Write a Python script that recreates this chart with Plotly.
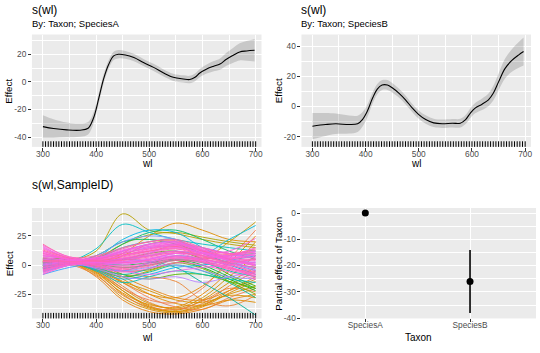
import plotly.graph_objects as go

# ---------------- data ----------------
wl_ticks = [300, 400, 500, 600, 700]
wl_obs = list(range(300, 701, 5))  # rug positions (one observation every 5 nm)

# s(wl) SpeciesA
a_wl = [300, 320, 345, 370, 385, 395, 405, 414, 424, 433, 442, 455, 471, 489, 508,
        527, 545, 564, 576, 586, 595, 608, 620, 633, 645, 658, 670, 683, 698]
a_est = [-32.4, -33.8, -34.8, -35.0, -33.6, -26.4, -12.0, 2.0, 12.9, 18.8, 20.0, 19.5,
         17.6, 14.0, 10.5, 6.4, 3.3, 2.1, 1.7, 3.3, 6.4, 9.3, 11.2, 12.9, 16.4, 19.3,
         21.7, 22.4, 22.9]
a_se = [8.3, 6.8, 5.4, 4.8, 4.5, 4.0, 3.6, 3.3, 3.1, 3.0, 3.0, 2.8, 2.7, 2.6, 2.6, 2.6,
        2.6, 2.6, 2.7, 2.8, 3.0, 3.3, 3.7, 4.1, 4.7, 5.4, 6.2, 7.2, 8.2]
a_yticks = [-40, -20, 0, 20]

# s(wl) SpeciesB
b_wl = [300, 325, 344, 369, 385, 394, 403, 413, 422, 431, 441, 450, 463, 475, 488, 500,
        513, 528, 544, 563, 578, 588, 597, 606, 619, 631, 640, 650, 662, 675, 688, 697]
b_est = [-13.1, -12.0, -11.5, -12.0, -11.5, -8.7, -3.3, 5.4, 11.5, 14.2, 14.2, 12.4, 8.7,
         4.4, -1.1, -5.4, -8.7, -10.9, -11.5, -11.1, -11.1, -8.7, -4.4, -1.1, 1.5, 4.4,
         8.7, 16.3, 25.1, 30.5, 34.2, 36.4]
b_se = [8.7, 7.6, 6.8, 6.0, 5.4, 4.8, 4.2, 3.7, 3.4, 3.3, 3.3, 3.2, 3.0, 2.9, 2.8, 2.8,
        2.8, 2.8, 2.8, 2.8, 2.9, 3.0, 3.2, 3.4, 3.8, 4.2, 4.8, 5.5, 6.5, 7.5, 8.5, 9.3]
b_yticks = [-20, 0, 20, 40]

# s(wl,SampleID): per-sample smooths read at these wavelengths
re_wl = [300, 350, 400, 450, 500, 550, 600, 650, 700]
orange_curves = [
    [2, 3, -5, -22, -35, -40, -35, -22, -10],
    [-3, 1, -8, -28, -38, -41, -36, -24, -14],
    [5, 4, -3, -18, -32, -38, -33, -18, -5],
    [0, 2, -6, -25, -37, -39, -30, -15, -2],
    [8, 5, -2, -15, -28, -36, -38, -28, -20],
    [-2, 2, -10, -30, -40, -42, -38, -30, -25],
    [4, 3, -4, -20, -33, -37, -28, -10, 8],
    [1, 2, -7, -24, -34, -36, -25, -5, 20],
    [6, 4, -1, -12, -25, -33, -35, -30, -32],
    [-4, 0, -9, -26, -36, -38, -31, -20, -23],
    [3, 3, -2, -14, -22, -30, -32, -25, -18],
    [0, 2, -5, -20, -30, -32, -20, 5, 30],
    [2, 3, 0, -10, -20, -28, -30, -22, -12],
    [5, 4, -6, -22, -36, -40, -34, -26, -28],
    [3, 3, -4, -15, -25, -28, -18, 2, 25],
    [0, 2, 2, 10, 25, 36, 30, 22, 20],
    [-2, 1, -3, -8, -10, -14, -30, -35, -26],
]
olive_curves = [
    [3, 4, 12, 44, 30, 27, 22, 18, 15],
    [2, 3, 0, 8, 18, 20, 6, 20, 37],
    [4, 4, 6, 18, 26, 28, 24, 20, 17],
    [-2, 1, -4, -10, -5, 2, 5, 8, 10],
]
green_curves = [
    [2, 3, 2, 0, 2, 5, 0, -10, -20],
    [4, 3, 0, -5, -4, 2, -3, -14, -25],
    [0, 2, 5, 18, 28, 30, 22, 12, 5],
    [5, 4, 3, 5, 10, 12, 5, -8, -18],
    [1, 2, -3, -10, -6, 0, -5, -15, -28],
    [3, 3, 1, -2, 0, 4, -2, -12, -22],
    [-1, 2, 8, 20, 22, 18, 10, 2, -2],
    [6, 5, 2, -8, -12, -8, -8, -14, -20],
]
teal_curves = [
    [0, 3, 14, 35, 28, 22, 18, 15, 12],
    [-3, 1, 3, 5, 3, -2, -15, -28, -43],
    [-5, 0, 5, 15, 20, 22, 10, 22, 34],
    [2, 3, -2, -8, -3, 5, 2, -5, -10],
    [-2, 2, 6, 22, 30, 28, 15, 5, 0],
    [0, 2, -5, -15, -10, -5, -8, -12, -15],
]
blue_curves = [
    [-6, 0, 4, 12, 18, 20, 12, 5, 2],
    [-3, 1, -2, -5, 2, 8, 5, 0, -8],
    [5, 4, 6, 10, 15, 16, 10, 8, 10],
    [-8, -2, 2, 5, 8, 12, 8, 2, -5],
    [2, 3, -4, -12, -8, -2, 0, 4, 8],
    [0, 2, 8, 20, 25, 22, 12, 4, -4],
    [-4, 0, 0, 2, 10, 18, 15, 10, 12],
]
purple_curves = [
    [-5, 0, 2, 3, 5, 10, 8, 5, 0],
    [3, 3, -3, -10, -12, -10, -15, -10, -6],
    [-2, 1, 5, 12, 18, 20, 15, 10, 6],
    [8, 5, 3, 2, 5, 8, 3, -3, -8],
    [0, 2, -2, -5, -2, 0, -5, -10, -12],
]
pink_curves = [
    [15, 6, 5, 10, 15, 18, 12, 8, 12],
    [12, 5, 2, 5, 10, 14, 10, 6, 5],
    [-8, 0, 3, 5, 8, 10, 5, 0, -5],
    [10, 5, 0, -3, 0, 5, 3, -2, -8],
    [5, 4, 6, 12, 18, 20, 14, 10, 8],
    [-5, 1, -2, -6, -3, 2, 0, -6, -12],
    [18, 7, 8, 15, 20, 22, 15, 10, 14],
    [0, 3, 4, 8, 12, 15, 10, 5, 2],
    [8, 5, 1, 0, 5, 10, 8, 4, 0],
    [-3, 2, 5, 10, 14, 16, 8, 2, -2],
    [14, 6, 3, 2, 4, 8, 6, 8, 15],
    [3, 3, -1, -4, -1, 4, 2, -3, -6],
    [-7, 0, 2, 3, 6, 10, 10, 12, 23],
    [10, 5, 4, 8, 14, 18, 12, 6, 4],
    [2, 3, 7, 14, 20, 21, 13, 5, -1],
    [6, 4, 0, -5, -8, -5, -2, 0, 3],
    [16, 6, 6, 12, 16, 17, 10, 6, 10],
    [-4, 1, 3, 6, 9, 12, 6, -1, -10],
    [12, 5, 2, 4, 8, 12, 9, 4, 1],
    [4, 4, 5, 9, 12, 14, 8, 3, 5],
    [9, 5, 3, 6, 11, 15, 11, 7, 9],
    [-6, 1, 1, 2, 4, 7, 4, -2, -11],
    [13, 6, 4, 7, 12, 16, 12, 9, 13],
    [1, 3, 2, 1, 3, 6, 4, 1, -3],
    [7, 4, 6, 13, 17, 19, 11, 4, 0],
    [-1, 2, 0, -2, 1, 6, 5, 2, 6],
    [17, 7, 5, 8, 13, 17, 13, 10, 11],
    [3, 3, 3, 4, 7, 11, 7, 1, -7],
    [11, 5, 6, 11, 16, 19, 13, 7, 7],
    [-2, 2, 1, -1, 2, 7, 3, -4, -9],
]
re_yticks = [-25, 0, 25]

# Parametric effect of Taxon
taxa = ["SpeciesA", "SpeciesB"]
taxon_est = [0.0, -26.1]
taxon_lower = [0.0, -38.0]
taxon_upper = [0.0, -14.1]
tax_yticks = [-40, -30, -20, -10, 0]

# ---------------- style ----------------
W, H = 540, 353
FONT = "Liberation Sans, Arial, sans-serif"
PANEL = "#EBEBEB"
TICKC = "#4D4D4D"
group_colors = {
    "orange": ["#E58700", "#DE8C00", "#EA8331", "#D89000", "#F07E4E", "#E68613", "#D39200"],
    "olive": ["#B79F00", "#C49A00", "#ABA300"],
    "green": ["#00BA38", "#7CAE00", "#00BE67", "#39B600", "#00C08B", "#0CB702", "#00BC59", "#53B400"],
    "teal": ["#00BFC4", "#00B09B", "#00BCD8", "#00C1A9", "#00B8E7", "#00C0B8"],
    "blue": ["#619CFF", "#00A9FF", "#8B93FF", "#35A2FF", "#00B4F0", "#7997FF", "#A58AFF"],
    "purple": ["#C77CFF", "#B983FF", "#D575FE", "#E16CF7", "#9590FF"],
    "pink": ["#F564E3", "#FF61C3", "#FD61D1", "#FF64B0", "#FA62DB", "#FF61C9", "#FF67A4", "#F066EA"],
}
groups = [("orange", orange_curves), ("olive", olive_curves), ("green", green_curves),
          ("teal", teal_curves), ("blue", blue_curves), ("purple", purple_curves),
          ("pink", pink_curves)]

# panel boxes in pixels (left, right, top, bottom)
P1 = (32, 262, 35, 149)
P2 = (302, 532, 35, 149)
P3 = (32, 262, 211, 323)
P4 = (302, 537, 211, 323)


def xd(p):
    return [p[0] / W, p[1] / W]


def yd(p):
    return [1 - p[3] / H, 1 - p[2] / H]


def lab(v):
    return [("-" + str(abs(t))) if t < 0 else str(t) for t in v]


fig = go.Figure()


def smooth_panel(xs, est, se, xa, ya):
    upper = [e + s for e, s in zip(est, se)]
    lower = [e - s for e, s in zip(est, se)]
    fig.add_trace(go.Scatter(x=xs, y=upper, mode="lines", line=dict(width=0, shape="spline"),
                             xaxis=xa, yaxis=ya, showlegend=False, hoverinfo="skip"))
    fig.add_trace(go.Scatter(x=xs, y=lower, mode="lines", line=dict(width=0, shape="spline"),
                             fill="tonexty", fillcolor="rgba(0,0,0,0.15)",
                             xaxis=xa, yaxis=ya, showlegend=False, hoverinfo="skip"))
    fig.add_trace(go.Scatter(x=xs, y=est, mode="lines", line=dict(color="black", width=1.1, shape="spline"),
                             xaxis=xa, yaxis=ya, showlegend=False))


smooth_panel(a_wl, a_est, a_se, "x", "y")
smooth_panel(b_wl, b_est, b_se, "x2", "y2")

for gname, curves in groups:
    cols = group_colors[gname]
    for i, c in enumerate(curves):
        fig.add_trace(go.Scatter(x=re_wl, y=c, mode="lines",
                                 line=dict(color=cols[i % len(cols)], width=0.9, shape="spline", smoothing=1.0),
                                 xaxis="x3", yaxis="y3", showlegend=False))

fig.add_trace(go.Scatter(
    x=taxa, y=taxon_est, mode="markers",
    marker=dict(color="black", size=7),
    error_y=dict(type="data", symmetric=False,
                 array=[u - e for u, e in zip(taxon_upper, taxon_est)],
                 arrayminus=[e - l for e, l in zip(taxon_est, taxon_lower)],
                 width=0, thickness=1.6, color="black"),
    xaxis="x4", yaxis="y4", showlegend=False))

# rugs
shapes = []
for xr, yr in [("x", "y domain"), ("x2", "y2 domain"), ("x3", "y3 domain")]:
    for w in wl_obs:
        shapes.append(dict(type="line", xref=xr, yref=yr, x0=w, x1=w, y0=0, y1=0.05,
                           line=dict(color="black", width=1)))

axis_common = dict(showline=False, zeroline=False, ticks="outside", ticklen=3, tickwidth=1,
                   tickcolor="#333333", showgrid=True, gridcolor="white", gridwidth=1,
                   tickfont=dict(family=FONT, size=8.3, color=TICKC))


def wlaxis(p, anchor):
    return dict(axis_common, domain=xd(p), anchor=anchor, range=[279.4, 711],
                tickmode="array", tickvals=wl_ticks, ticktext=lab(wl_ticks),
                ticklabelstandoff=-4,
                minor=dict(tickvals=[350, 450, 550, 650], showgrid=True, gridcolor="white",
                           gridwidth=0.5, ticks=""))


def yaxis(p, anchor, rng, ticks, minor):
    return dict(axis_common, domain=yd(p), anchor=anchor, range=rng,
                tickmode="array", tickvals=ticks, ticktext=lab(ticks),
                minor=dict(tickvals=minor, showgrid=True, gridcolor="white", gridwidth=0.5, ticks=""))


layout = dict(
    width=W, height=H, margin=dict(l=0, r=0, t=0, b=0),
    paper_bgcolor="white", plot_bgcolor=PANEL,
    font=dict(family=FONT, color="black"),
    xaxis=wlaxis(P1, "y"),
    yaxis=yaxis(P1, "x", [-47.1, 34.3], a_yticks, [-30, -10, 10, 30]),
    xaxis2=wlaxis(P2, "y2"),
    yaxis2=yaxis(P2, "x2", [-26.8, 47.7], b_yticks, [-10, 10, 30]),
    xaxis3=wlaxis(P3, "y3"),
    yaxis3=yaxis(P3, "x3", [-45.8, 49], re_yticks, [-37.5, -12.5, 12.5, 37.5]),
    xaxis4=dict(axis_common, domain=xd(P4), anchor="y4", type="category",
                range=[-0.61, 1.63], categoryorder="array", categoryarray=taxa,
                ticklabelstandoff=-4),
    yaxis4=yaxis(P4, "x4", [-40.1, 1.9], tax_yticks, [-35, -25, -15, -5]),
    shapes=shapes,
)
fig.update_layout(**layout)


def ann(text, px, py, size, xanchor="left", angle=0, color="black"):
    fig.add_annotation(text=text, x=px / W, y=1 - py / H, xref="paper", yref="paper",
                       showarrow=False, xanchor=xanchor, yanchor="middle", textangle=angle,
                       borderpad=0, font=dict(family=FONT, size=size, color=color))


ann("s(wl)", 31, 10, 12)
ann("By: Taxon; SpeciesA", 31, 24, 9.5)
ann("s(wl)", 301, 10, 12)
ann("By: Taxon; SpeciesB", 301, 24, 9.5)
ann("s(wl,SampleID)", 31, 188, 12)
ann("wl", 147, 166, 10, "center")
ann("wl", 417, 166, 10, "center")
ann("wl", 147, 342, 10, "center")
ann("Taxon", 419, 342, 10, "center")
ann("Effect", 9, 92, 9.8, "center", -90)
ann("Effect", 279, 92, 9.8, "center", -90)
ann("Effect", 9, 267, 9.8, "center", -90)
ann("Partial effect of Taxon", 279, 267, 9.8, "center", -90)

fig.write_html("out.html")
